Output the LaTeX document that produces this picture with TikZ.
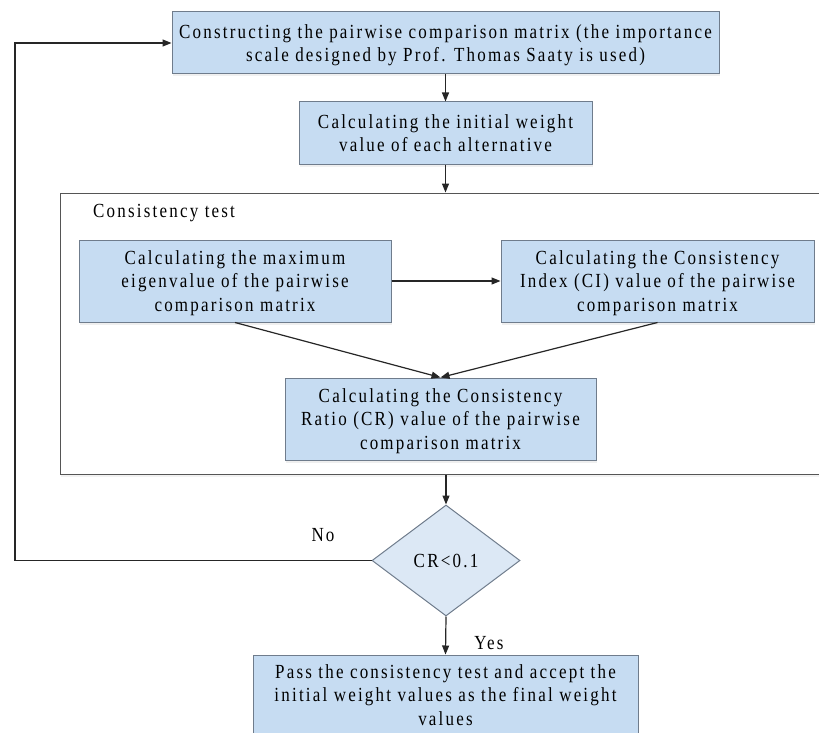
\documentclass[tikz,border=0pt]{standalone}
\usepackage{fontspec}
\setmainfont{Liberation Serif}[FakeStretch=0.85,LetterSpace=11]
\usetikzlibrary{arrows.meta,shapes.geometric,shadows}

\definecolor{boxfill}{HTML}{C6DCF2}
\definecolor{boxline}{HTML}{6F7C8C}
\definecolor{diafill}{HTML}{DCE8F5}
\definecolor{frameline}{HTML}{555555}

\tikzset{
  stepbox/.style={draw=boxline, line width=1pt, fill=boxfill, rectangle,
    inner sep=0pt, align=center, font=\fontsize{20}{23.5}\selectfont,
    text depth=-1.5pt,
    drop shadow={opacity=0.12, shadow xshift=1pt, shadow yshift=-2.5pt}},
  decision/.style={draw=boxline, line width=1pt, fill=diafill, diamond,
    aspect=1.333, inner sep=0pt, minimum width=148pt, minimum height=111pt,
    font=\fontsize{20}{22}\selectfont},
  flow/.style={draw=black!85, line width=1.2pt, -{Triangle[length=9pt,width=7pt]}},
  lbl/.style={font=\fontsize{20}{22}\selectfont, inner sep=0pt}
}

\begin{document}
\begin{tikzpicture}[x=1pt,y=-1pt]
\useasboundingbox (0,0) rectangle (819,733);

% consistency test frame
\node[draw=frameline, line width=1pt, rectangle, minimum width=770pt,
      minimum height=281pt, inner sep=0pt,
      drop shadow={opacity=0.10, shadow xshift=1pt, shadow yshift=-2.5pt},
      fill=white] (frame) at (445,333.5) {};
\node[lbl, anchor=west] (frametitle) at (93,213) {Consistency test};

% process boxes
\node[stepbox, minimum width=547pt, minimum height=62pt] (build) at (445.5,43)
  {Constructing the pairwise comparison matrix (the importance\\scale designed by Prof. Thomas Saaty is used)};
\node[stepbox, minimum width=293pt, minimum height=62pt] (init) at (445.5,133)
  {Calculating the initial weight\\value of each alternative};
\node[stepbox, minimum width=312pt, minimum height=82pt] (eigen) at (235,281)
  {Calculating the maximum\\eigenvalue of the pairwise\\comparison matrix};
\node[stepbox, minimum width=313pt, minimum height=82pt] (ci) at (657.5,281)
  {Calculating the Consistency\\Index (CI) value of the pairwise\\comparison matrix};
\node[stepbox, minimum width=311pt, minimum height=82pt] (cr) at (440.5,419)
  {Calculating the Consistency\\Ratio (CR) value of the pairwise\\comparison matrix};
\node[decision] (check) at (446,560.5) {CR<0.1};
\node[stepbox, minimum width=385pt, minimum height=80pt] (final) at (445.5,695)
  {Pass the consistency test and accept the\\initial weight values as the final weight\\values};

% connectors
\draw[flow] (build) -- (init);
\draw[flow] (init.south) -- (init.south |- frame.north);
\draw[flow] (eigen) -- (ci);
\draw[flow] (eigen.south) -- (cr.north);
\draw[flow] (ci.south) -- (cr.north);
\draw[flow] (check.north |- frame.south) -- (check.north);
\draw[flow] (check.south) -- (final.north);

% loop back when the test fails
\coordinate (loopx) at (15,0);
\draw[flow] (check.west) -- (check.west -| loopx) |- (build.west);

\node[lbl] (nolabel) at (323,535) {No};
\node[lbl] (yeslabel) at (489,643) {Yes};
\end{tikzpicture}
\end{document}
